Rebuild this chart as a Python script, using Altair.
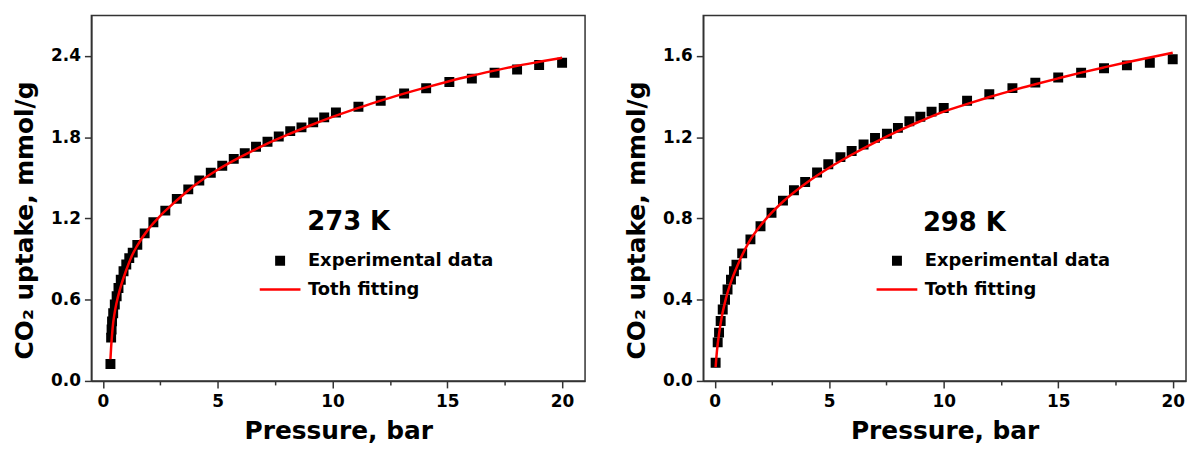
import altair as alt
import pandas as pd

FONT = "DejaVu Sans"

# ---------------- 273 K ----------------
p273_exp = [0.33, 0.36, 0.38, 0.40, 0.45, 0.52, 0.60, 0.68, 0.78, 0.90,
            1.02, 1.15, 1.30, 1.50, 1.82, 2.20, 2.72, 3.22, 3.72, 4.20,
            4.70, 5.20, 5.70, 6.18, 6.67, 7.17, 7.66, 8.16, 8.65, 9.16,
            9.64, 10.15, 11.13, 12.10, 13.12, 14.08, 15.09, 16.07, 17.06, 18.04,
            19.00, 20.00]
q273_exp = [0.125, 0.32, 0.38, 0.44, 0.50, 0.565, 0.626, 0.687, 0.748, 0.81,
            0.86, 0.907, 0.948, 1.005, 1.09, 1.172, 1.258, 1.345, 1.415, 1.48,
            1.538, 1.59, 1.64, 1.682, 1.73, 1.767, 1.806, 1.845, 1.873, 1.91,
            1.947, 1.983, 2.025, 2.069, 2.123, 2.162, 2.208, 2.233, 2.277, 2.30,
            2.333, 2.35]
p273_fit = [0.33, 0.36, 0.40, 0.45, 0.50, 0.60, 0.75, 1.0, 1.25, 1.5,
            2.0, 2.5, 3.0, 3.5, 4.0, 5.0, 6.0, 7.0, 8.0, 9.0,
            10.0, 11.0, 12.0, 13.0, 14.0, 15.0, 16.0, 17.0, 18.0, 19.0, 20.0]
q273_fit = [0.16, 0.25, 0.34, 0.43, 0.49, 0.58, 0.68, 0.81, 0.92, 1.0,
            1.125, 1.22, 1.30, 1.375, 1.445, 1.56, 1.655, 1.74, 1.815, 1.885,
            1.95, 2.01, 2.065, 2.117, 2.165, 2.21, 2.252, 2.29, 2.326, 2.357, 2.387]

# ---------------- 298 K ----------------
p298_exp = [0.04, 0.13, 0.19, 0.26, 0.35, 0.45, 0.56, 0.71, 0.84, 0.95,
            1.20, 1.56, 2.0, 2.48, 2.98, 3.46, 3.95, 4.47, 4.96, 5.49,
            5.98, 6.5, 7.0, 7.52, 8.0, 8.5, 8.98, 9.47, 10.0, 11.02,
            11.99, 13.0, 14.0, 15.0, 16.0, 17.0, 18.0, 19.0, 20.0]
q298_exp = [0.09, 0.19, 0.238, 0.295, 0.352, 0.40, 0.45, 0.499, 0.54, 0.572,
            0.628, 0.697, 0.762, 0.828, 0.888, 0.939, 0.98, 1.026, 1.067, 1.102,
            1.132, 1.164, 1.197, 1.217, 1.246, 1.279, 1.301, 1.326, 1.344, 1.38,
            1.412, 1.442, 1.469, 1.494, 1.518, 1.54, 1.554, 1.567, 1.584]
p298_fit = [0.04, 0.1, 0.2, 0.3, 0.5, 0.75, 1.0, 1.5, 2.0, 2.5,
            3.0, 4.0, 5.0, 6.0, 7.0, 8.0, 9.0, 10.0, 11.0, 12.0,
            13.0, 14.0, 15.0, 16.0, 17.0, 18.0, 19.0, 20.0]
q298_fit = [0.068, 0.15, 0.24, 0.31, 0.41, 0.50, 0.57, 0.685, 0.765, 0.83,
            0.885, 0.975, 1.05, 1.115, 1.175, 1.23, 1.28, 1.326, 1.363, 1.398,
            1.431, 1.461, 1.49, 1.518, 1.544, 1.569, 1.593, 1.616]

series_names = ["Experimental data", "Toth fitting"]
series_colors = ["#000000", "#ff0000"]
x_ticks = [0, 2.5, 5, 7.5, 10, 12.5, 15, 17.5, 20]
y_ticks_273 = [0.0, 0.6, 1.2, 1.8, 2.4]
y_ticks_298 = [0.0, 0.4, 0.8, 1.2, 1.6]

SQUARE = "M-0.75,-0.75H0.75V0.75H-0.75Z"
STROKE = "M-4.1,0H4.1"


def panel(exp_p, exp_q, fit_p, fit_q, ydom, yticks, label, lab_xy, width, xdom, leg_xy):
    exp = pd.DataFrame({"p": exp_p, "q": exp_q, "series": series_names[0]})
    fit = pd.DataFrame({"p": fit_p, "q": fit_q, "series": series_names[1]})
    lab = pd.DataFrame({"p": [lab_xy[0]], "q": [lab_xy[1]], "t": [label]})

    xs = alt.Scale(domain=xdom, nice=False, zero=False)
    ys = alt.Scale(domain=ydom, nice=False, zero=False)
    xax = alt.Axis(values=x_ticks, format="d",
                   labelExpr="datum.value % 5 === 0 ? datum.label : ''",
                   tickSize={"condition": {"test": "datum.value % 5 !== 0", "value": 4}, "value": 7},
                   title="Pressure, bar", labelPadding=6, titlePadding=9)
    yax = alt.Axis(values=yticks, format=".1f", title="CO₂ uptake, mmol/g",
                   tickSize=7, labelPadding=4, titlePadding=13, titleY=206)
    leg = alt.Legend(orient="none", legendX=leg_xy[0], legendY=leg_xy[1], title=None,
                     labelFont=FONT, labelFontWeight="bold", labelFontSize=18,
                     labelColor="black", symbolSize=100, symbolStrokeWidth=2.5,
                     labelOffset=19, rowPadding=11, labelLimit=400)
    col = alt.Scale(domain=series_names, range=series_colors)
    shp = alt.Scale(domain=series_names, range=[SQUARE, STROKE])

    x = alt.X("p:Q", scale=xs, axis=xax)
    y = alt.Y("q:Q", scale=ys, axis=yax)

    line = alt.Chart(fit).mark_line(strokeWidth=2.5, interpolate="monotone").encode(
        x=x, y=y, color=alt.Color("series:N", scale=col, legend=leg))
    pts = alt.Chart(exp).mark_point(size=100, strokeWidth=2.5, opacity=1).encode(
        x=x, y=y,
        color=alt.Color("series:N", scale=col, legend=leg),
        fill=alt.Fill("series:N", scale=col, legend=leg),
        shape=alt.Shape("series:N", scale=shp, legend=leg))
    txt = alt.Chart(lab).mark_text(align="left", baseline="middle", font=FONT,
                                   fontWeight="bold", fontSize=26, color="black").encode(
        x=alt.X("p:Q", scale=xs), y=alt.Y("q:Q", scale=ys), text="t:N")
    return alt.layer(pts, line, txt).properties(width=width, height=368)


left = panel(p273_exp, q273_exp, p273_fit, q273_fit, [0, 2.7], y_ticks_273, "273 K",
             (8.9, 1.174), 497, [-0.5, 21], (181, 238))
right = panel(p298_exp, q298_exp, p298_fit, q298_fit, [0, 1.8], y_ticks_298, "298 K",
              (9.09, 0.778), 486, [-0.5, 20.58], (186, 238))

chart = alt.hconcat(left, right, spacing=38).resolve_scale(
    x="independent", y="independent", color="independent", fill="independent", shape="independent"
).resolve_legend(
    color="independent", fill="independent", shape="independent"
).properties(
    padding={"left": 12, "top": 13, "right": 0, "bottom": 0}
).configure_axis(
    labelFont=FONT, titleFont=FONT, labelFontWeight="bold", titleFontWeight="bold",
    labelFontSize=17, titleFontSize=25, labelColor="black", titleColor="black",
    domainColor="#333333", tickColor="#333333", domainWidth=1.5, tickWidth=1.5, grid=False
).configure_view(stroke="#333333", strokeWidth=1.5)

chart.save("out.html", embed_options={"renderer": "svg", "actions": False})
